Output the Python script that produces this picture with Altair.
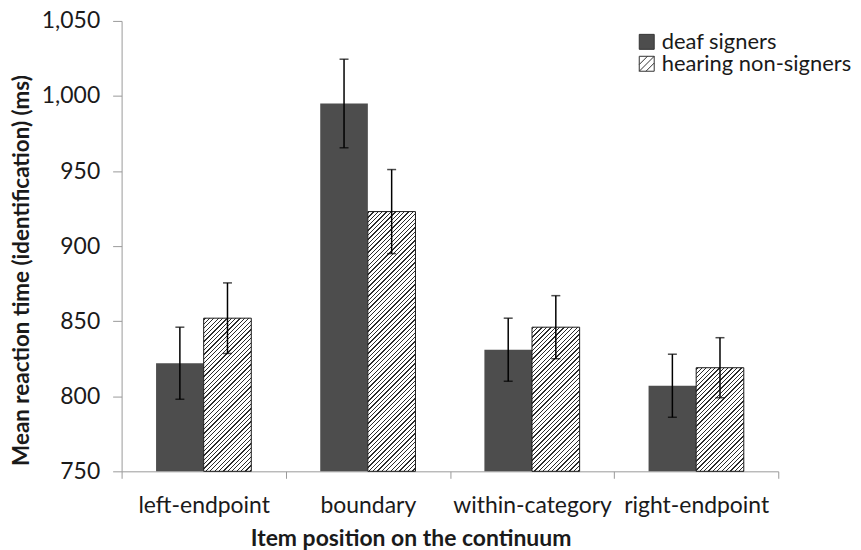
import altair as alt
import pandas as pd

# ---- data ----
categories = ["left-endpoint", "boundary", "within-category", "right-endpoint"]
groups = ["deaf signers", "hearing non-signers"]
deaf_mean = [822, 995, 831, 807]
deaf_err = [24, 29.5, 21, 21]
hearing_mean = [852, 923, 846, 819]
hearing_err = [23.5, 28, 21, 20]
y_ticks = [750, 800, 850, 900, 950, 1000, 1050]

# ---- layout / style constants ----
W, H = 659, 452
Y_MIN, Y_MAX = 750, 1050
OFFSET_PAD = 0.724
DARK = "#4d4d4d"
HATCH = "#2b2b2b"
TEXT = "#1a1a1a"
AXIS = "#9a9a9a"
FONT = "Lato"

rows = []
for i, c in enumerate(categories):
    rows.append(dict(item=c, group=groups[0], mean=deaf_mean[i],
                     lo=deaf_mean[i] - deaf_err[i], hi=deaf_mean[i] + deaf_err[i]))
    rows.append(dict(item=c, group=groups[1], mean=hearing_mean[i],
                     lo=hearing_mean[i] - hearing_err[i], hi=hearing_mean[i] + hearing_err[i]))
df = pd.DataFrame(rows)


def hatch_fill(value, period=4.4, line=1.3):
    """Diagonal '////' stripes as a linear gradient sized to the bar in pixels."""
    w = W / len(categories) / (len(groups) + 2 * OFFSET_PAD)
    h = (value - Y_MIN) / (Y_MAX - Y_MIN) * H
    k = (w + h) / (w * w + h * h)
    L = w + h
    stops = [alt.GradientStop(offset=0, color="white")]
    pos = 1.0
    while pos < L:
        a = round(pos / L, 5)
        b = round(min((pos + line) / L, 1.0), 5)
        stops += [
            alt.GradientStop(offset=a, color="white"),
            alt.GradientStop(offset=a, color=HATCH),
            alt.GradientStop(offset=b, color=HATCH),
            alt.GradientStop(offset=b, color="white"),
        ]
        pos += period
    stops.append(alt.GradientStop(offset=1, color="white"))
    return alt.LinearGradient(gradient="linear", stops=stops,
                              x1=0, y1=0, x2=round(w * k, 5), y2=round(h * k, 5))


x_enc = alt.X(
    "item:N", sort=categories,
    scale=alt.Scale(domain=categories, paddingInner=0, paddingOuter=0),
    axis=alt.Axis(
        title="Item position on the continuum",
        tickBand="extent", tickSize=7, tickColor=AXIS, domainColor=AXIS,
        labelFont=FONT, labelFontSize=23, labelColor=TEXT, labelAngle=0,
        labelBaseline="alphabetic", labelPadding=34,
        titleFont=FONT, titleFontSize=23, titleFontWeight="bold", titleColor=TEXT,
        titleX=290, titleY=74, titleAlign="center", titleBaseline="alphabetic",
    ),
)
xo_enc = alt.XOffset(
    "group:N", sort=groups,
    scale=alt.Scale(domain=groups, paddingInner=0, paddingOuter=OFFSET_PAD),
)
y_axis = alt.Axis(
    title="Mean reaction time (identification) (ms)",
    values=y_ticks, format=",d", grid=False,
    tickSize=9, tickColor=AXIS, domainColor=AXIS,
    labelFont=FONT, labelFontSize=23, labelColor=TEXT, labelPadding=13,
    titleFont=FONT, titleFontSize=22.5, titleFontWeight="bold", titleColor=TEXT,
    titleX=-93, titleY=250, titleAlign="center", titleBaseline="alphabetic",
)
y_scale = alt.Scale(domain=[Y_MIN, Y_MAX], zero=False, nice=False)

base = alt.Chart(df)

legend = alt.Legend(
    title=None, orient="none", legendX=516, legendY=10, padding=0,
    labelFont=FONT, labelFontSize=22, labelColor=TEXT, labelOffset=4, labelLimit=400,
    symbolSize=225, symbolStrokeWidth=1, symbolOpacity=1, rowPadding=0,
)
HATCH_PATH = "M-1,-1H1V1H-1Z M-1,0.1L0.1,-1 M-1,1L1,-1 M-0.1,1L1,-0.1"

# legend carrier: tiny points hidden behind the bars
legend_layer = base.mark_point(filled=True, size=4, strokeWidth=1).encode(
    x=x_enc, xOffset=xo_enc,
    y=alt.Y("lo:Q", scale=y_scale, axis=y_axis),
    fill=alt.Fill("group:N", scale=alt.Scale(domain=groups, range=[DARK, "white"]), legend=legend),
    stroke=alt.Stroke("group:N", scale=alt.Scale(domain=groups, range=["#333333", "#333333"]), legend=legend),
    shape=alt.Shape("group:N", scale=alt.Scale(domain=groups, range=["square", HATCH_PATH]), legend=legend),
)

deaf_bars = base.transform_filter(alt.datum.group == groups[0]).mark_bar(color=DARK).encode(
    x=x_enc, xOffset=xo_enc,
    y=alt.Y("mean:Q", scale=y_scale, axis=y_axis),
    y2=alt.datum(Y_MIN),
)

hearing_layers = []
for i, c in enumerate(categories):
    hearing_layers.append(
        base.transform_filter((alt.datum.group == groups[1]) & (alt.datum.item == c))
        .mark_bar(fill=hatch_fill(hearing_mean[i]), stroke="#1a1a1a", strokeWidth=1)
        .encode(
            x=x_enc, xOffset=xo_enc,
            y=alt.Y("mean:Q", scale=y_scale, axis=y_axis),
            y2=alt.datum(Y_MIN),
        )
    )

err_rules = base.mark_rule(color="black", strokeWidth=1.5).encode(
    x=x_enc, xOffset=xo_enc,
    y=alt.Y("lo:Q", scale=y_scale, axis=y_axis), y2="hi:Q",
)
cap_lo = base.mark_tick(color="black", thickness=1.5, size=9).encode(
    x=x_enc, xOffset=xo_enc, y=alt.Y("lo:Q", scale=y_scale, axis=y_axis),
)
cap_hi = base.mark_tick(color="black", thickness=1.5, size=9).encode(
    x=x_enc, xOffset=xo_enc, y=alt.Y("hi:Q", scale=y_scale, axis=y_axis),
)

chart = alt.layer(
    legend_layer, deaf_bars, *hearing_layers, err_rules, cap_lo, cap_hi
).properties(
    width=W, height=H,
    autosize=alt.AutoSizeParams(type="none"),
    padding={"left": 114, "top": 12, "right": 75, "bottom": 78},
    background="white",
).configure_view(stroke=None)

chart.save("out.html", embed_options={"renderer": "svg", "actions": False})
